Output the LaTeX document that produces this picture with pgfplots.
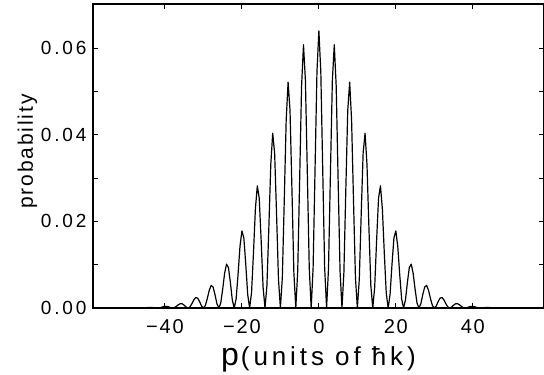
\documentclass[border=0pt]{standalone}
\usepackage{fontspec}
\setmainfont{Liberation Sans}
\newfontfamily\ytickfont[LetterSpace=15]{Liberation Sans}
\newfontfamily\xtickfont[LetterSpace=9]{Liberation Sans}
\newfontfamily\labfont[LetterSpace=15]{Liberation Sans}
\newfontfamily\ylabfont[LetterSpace=9]{Liberation Sans}
\usepackage{pgfplots}
\pgfplotsset{compat=1.18}
\pgfplotstableread{
p y
-58.7 0
-50 0
-48 0.00004
-46 0
-45 0.000060
-44 0.000130
-43 0.000086
-42 0
-41.5 0.000038
-41 0.000148
-40.5 0.000287
-40 0.000382
-39.5 0.000370
-39 0.000246
-38.5 0.000082
-38 0
-37.5 0.000104
-37 0.000401
-36.5 0.000769
-36 0.001012
-35.5 0.000968
-35 0.000635
-34.5 0.000208
-34 0
-33.5 0.000258
-33 0.000981
-32.5 0.001860
-32 0.002415
-31.5 0.002282
-31 0.001478
-30.5 0.000478
-30 0
-29.5 0.000579
-29 0.002170
-28.5 0.004061
-28 0.005208
-27.5 0.004858
-27 0.003104
-26.5 0.000990
-26 0
-25.5 0.001170
-25 0.004331
-24.5 0.008003
-24 0.010132
-23.5 0.009331
-23 0.005888
-22.5 0.001855
-22 0
-21.5 0.002135
-21 0.007803
-20.5 0.014236
-20 0.017794
-19.5 0.016179
-19 0.010080
-18.5 0.003135
-18 0
-17.5 0.003518
-17 0.012692
-16.5 0.022859
-16 0.028210
-15.5 0.025324
-15 0.015576
-14.5 0.004783
-14 0
-13.5 0.005231
-13 0.018633
-12.5 0.033133
-12 0.040369
-11.5 0.035777
-11 0.021727
-10.5 0.006586
-10 0
-9.5 0.007022
-9 0.024693
-8.5 0.043351
-8 0.052148
-7.5 0.045628
-7 0.027356
-6.5 0.008188
-6 0
-5.5 0.008508
-5 0.029540
-4.5 0.051199
-4 0.060806
-3.5 0.052528
-3 0.031092
-2.5 0.009187
-2 0
-1.5 0.009306
-1 0.031898
-0.5 0.054584
0 0.064000
0.5 0.054584
1 0.031898
1.5 0.009306
2 0
2.5 0.009187
3 0.031092
3.5 0.052528
4 0.060806
4.5 0.051199
5 0.029540
5.5 0.008508
6 0
6.5 0.008188
7 0.027356
7.5 0.045628
8 0.052148
8.5 0.043351
9 0.024693
9.5 0.007022
10 0
10.5 0.006586
11 0.021727
11.5 0.035777
12 0.040369
12.5 0.033133
13 0.018633
13.5 0.005231
14 0
14.5 0.004783
15 0.015576
15.5 0.025324
16 0.028210
16.5 0.022859
17 0.012692
17.5 0.003518
18 0
18.5 0.003135
19 0.010080
19.5 0.016179
20 0.017794
20.5 0.014236
21 0.007803
21.5 0.002135
22 0
22.5 0.001855
23 0.005888
23.5 0.009331
24 0.010132
24.5 0.008003
25 0.004331
25.5 0.001170
26 0
26.5 0.000990
27 0.003104
27.5 0.004858
28 0.005208
28.5 0.004061
29 0.002170
29.5 0.000579
30 0
30.5 0.000478
31 0.001478
31.5 0.002282
32 0.002415
32.5 0.001860
33 0.000981
33.5 0.000258
34 0
34.5 0.000208
35 0.000635
35.5 0.000968
36 0.001012
36.5 0.000769
37 0.000401
37.5 0.000104
38 0
38.5 0.000082
39 0.000246
39.5 0.000370
40 0.000382
40.5 0.000287
41 0.000148
41.5 0.000038
42 0
43 0.000086
44 0.000130
45 0.000060
46 0
48 0.00004
50 0
58.5 0
}\probdata
\begin{document}
\begin{tikzpicture}
\path[use as bounding box] (-93pt,-67pt) rectangle (451pt,308pt);
\begin{axis}[
  scale only axis, width=451pt, height=304pt,
  xmin=-58.7, xmax=58.5, ymin=0, ymax=0.0702,
  clip=false,
  scaled x ticks=false, scaled y ticks=false,
  axis line style={line width=1.3pt},
  xtick={-40,-20,0,20,40},
  xticklabels={−40,−20,0,20,40},
  ytick={0,0.02,0.04,0.06},
  yticklabels={0.00,0.02,0.04,0.06},
  minor ytick={0.01,0.03,0.05},
  tick align=inside,
  major tick length=5pt, minor tick length=5pt,
  tick style={black, line width=1pt},
  xticklabel style={font=\xtickfont\fontsize{20}{20}\selectfont, yshift=-8pt},
  yticklabel style={font=\ytickfont\fontsize{19}{19}\selectfont, xshift=-3pt},
  xlabel={{\fontsize{32}{32}\selectfont p}\hspace{2pt}{\labfont\fontsize{26}{26}\selectfont (units of ħk)}},
  ylabel={\ylabfont\fontsize{21}{21}\selectfont probability},
  every axis x label/.style={at={([yshift=-57pt]axis description cs:0.5,0)}, anchor=base},
  every axis y label/.style={at={([xshift=-60pt,yshift=4.5pt]axis description cs:0,0.5)}, rotate=90, anchor=base},
]
\addplot[black, line width=1.2pt, line join=round] table[x=p, y=y] {\probdata};
\end{axis}
\end{tikzpicture}
\end{document}
